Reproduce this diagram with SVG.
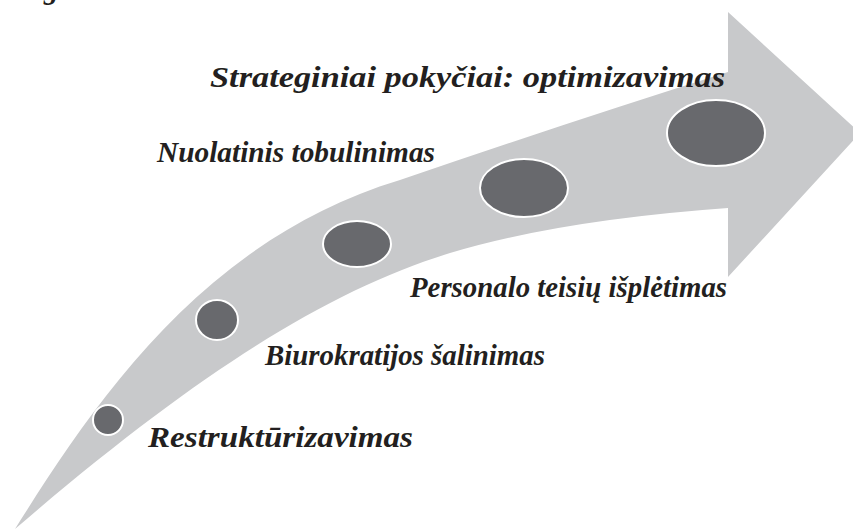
<svg xmlns="http://www.w3.org/2000/svg" width="853" height="530" viewBox="0 0 853 530">
<style>
.lbl{font-family:"Liberation Serif","Times New Roman",serif;font-style:italic;font-weight:bold;font-size:29px;fill:#231f20}
.dot{fill:#68696d;stroke:#ffffff;stroke-width:2}
</style>
<rect width="853" height="530" fill="#ffffff"/>
<g id="arrow">
<path d="M15 529 C 90 410, 200 240, 400 180 Q 560 125 728 72 L 728 12 L 860 133 L 728 277 L 728 208 Q 560 220 450 253 C 330 290, 200 370, 15 529 Z" fill="#c8c9cb"/>
</g>
<g id="fragment"><text class="lbl" x="44" y="-1">g</text></g>
<g id="n1"><circle class="dot" cx="108" cy="420" r="15"/><text class="lbl" x="148" y="447" textLength="265" lengthAdjust="spacingAndGlyphs">Restruktūrizavimas</text></g>
<g id="n2"><ellipse class="dot" cx="217" cy="320" rx="21" ry="20"/><text class="lbl" x="265" y="365" textLength="280" lengthAdjust="spacingAndGlyphs">Biurokratijos šalinimas</text></g>
<g id="n3"><ellipse class="dot" cx="357" cy="244" rx="34" ry="23"/><text class="lbl" x="410" y="297" textLength="317" lengthAdjust="spacingAndGlyphs">Personalo teisių išplėtimas</text></g>
<g id="n4"><ellipse class="dot" cx="524" cy="188" rx="44" ry="29"/><text class="lbl" x="157" y="162" textLength="278" lengthAdjust="spacingAndGlyphs">Nuolatinis tobulinimas</text></g>
<g id="n5"><ellipse class="dot" cx="716" cy="133" rx="49" ry="33"/><text class="lbl" x="210" y="87" textLength="515" lengthAdjust="spacingAndGlyphs">Strateginiai pokyčiai: optimizavimas</text></g>
<g id="connectors"></g>
</svg>
